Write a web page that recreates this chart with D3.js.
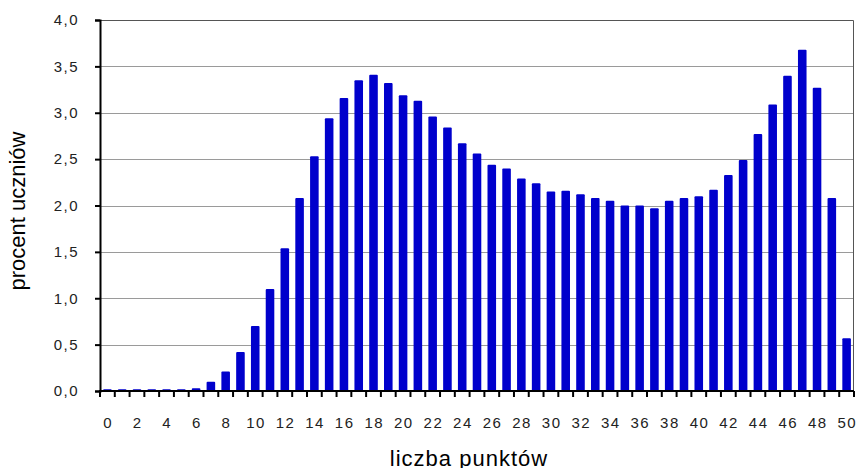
<!DOCTYPE html>
<html>
<head>
<meta charset="utf-8">
<script src="https://cdn.jsdelivr.net/npm/d3@7"></script>
<style>
  body { margin: 0; background: #fff; overflow: hidden; }
  text { font-family: "Liberation Sans", Arial, sans-serif; }
</style>
</head>
<body>
<div id="chart"></div>
<script>
// Chart data
var points = d3.range(0, 51);
var percent = [
  0.02, 0.02, 0.02, 0.02, 0.02, 0.02, 0.03, 0.10, 0.21, 0.42,
  0.70, 1.10, 1.54, 2.08, 2.53, 2.94, 3.16, 3.35, 3.41, 3.32,
  3.19, 3.13, 2.96, 2.84, 2.67, 2.56, 2.44, 2.40, 2.29, 2.24,
  2.15, 2.16, 2.12, 2.08, 2.05, 2.00, 2.00, 1.97, 2.05, 2.08,
  2.10, 2.17, 2.33, 2.49, 2.77, 3.09, 3.40, 3.68, 3.27, 2.08,
  0.57
];
var yTicks = [0, 0.5, 1, 1.5, 2, 2.5, 3, 3.5, 4];

var svgWidth = 856;
var svgHeight = 468;
var margin = { top: 20, right: 2, bottom: 77, left: 100 };
var width = svgWidth - margin.left - margin.right;
var height = svgHeight - margin.top - margin.bottom;

var svg = d3.select("#chart")
  .append("svg")
  .attr("width", svgWidth)
  .attr("height", svgHeight);

var chartGroup = svg.append("g")
  .attr("transform", `translate(${margin.left}, ${margin.top})`);

var xScale = d3.scaleBand()
  .domain(points)
  .range([0, width])
  .paddingInner(0.42)
  .paddingOuter(0.21);

var yScale = d3.scaleLinear()
  .domain([0, 4])
  .range([height, 0]);

// gridlines
chartGroup.append("g")
  .selectAll("line")
  .data(yTicks.filter(d => d > 0 && d < 4))
  .enter()
  .append("line")
  .attr("x1", 0)
  .attr("x2", width)
  .attr("y1", d => Math.round(yScale(d)) + 0.5)
  .attr("y2", d => Math.round(yScale(d)) + 0.5)
  .attr("stroke", "#9a9a9a")
  .attr("stroke-width", 1);

// top & right frame
chartGroup.append("path")
  .attr("d", `M0,0.5H${width - 0.5}V${height}`)
  .attr("fill", "none")
  .attr("stroke", "#555")
  .attr("stroke-width", 1);

// bars
chartGroup.selectAll("rect.bar")
  .data(percent)
  .enter()
  .append("rect")
  .attr("class", "bar")
  .attr("x", (d, i) => xScale(points[i]))
  .attr("y", d => yScale(d))
  .attr("width", xScale.bandwidth())
  .attr("height", d => height - yScale(d))
  .attr("rx", 1)
  .attr("fill", "#0000cc");

// y axis
var leftAxis = d3.axisLeft(yScale)
  .tickValues(yTicks)
  .tickSize(5)
  .tickPadding(16)
  .tickFormat(d => d3.format(".1f")(d).replace(".", ","));

var yAxis = chartGroup.append("g").call(leftAxis);
yAxis.select(".domain").attr("stroke", "#000").attr("stroke-width", 2);
yAxis.selectAll(".tick line").attr("stroke", "#000").attr("stroke-width", 2);
yAxis.selectAll("text")
  .attr("font-size", 15)
  .attr("fill", "#222")
  .style("letter-spacing", "1.5px")
  .style("font-family", "'Liberation Sans', Arial, sans-serif");

// x axis: ticks at category boundaries
var step = xScale.step();
var xAxisGroup = chartGroup.append("g")
  .attr("transform", `translate(0, ${height})`);

xAxisGroup.append("line")
  .attr("x1", -1)
  .attr("x2", width)
  .attr("y1", 0)
  .attr("y2", 0)
  .attr("stroke", "#000")
  .attr("stroke-width", 2);

xAxisGroup.selectAll("line.tick")
  .data(d3.range(0, points.length + 1))
  .enter()
  .append("line")
  .attr("class", "tick")
  .attr("x1", d => xScale(0) - (step - xScale.bandwidth()) / 2 + d * step)
  .attr("x2", d => xScale(0) - (step - xScale.bandwidth()) / 2 + d * step)
  .attr("y1", 0)
  .attr("y2", 6)
  .attr("stroke", "#000")
  .attr("stroke-width", 2);

xAxisGroup.selectAll("text")
  .data(points.filter(d => d % 2 === 0))
  .enter()
  .append("text")
  .attr("x", d => xScale(d) + xScale.bandwidth() / 2 + 0.75)
  .attr("y", 37)
  .attr("text-anchor", "middle")
  .attr("font-size", 15)
  .attr("fill", "#222")
  .style("letter-spacing", "1.5px")
  .text(d => d);

// axis titles
chartGroup.append("text")
  .attr("x", 369)
  .attr("y", height + 75)
  .attr("text-anchor", "middle")
  .attr("font-size", 22)
  .attr("fill", "#000")
  .style("letter-spacing", "1px")
  .text("liczba punktów");

chartGroup.append("text")
  .attr("transform", "rotate(-90)")
  .attr("x", -191)
  .attr("y", -75)
  .attr("text-anchor", "middle")
  .attr("font-size", 22)
  .attr("fill", "#000")
  .text("procent uczniów");
</script>
</body>
</html>
